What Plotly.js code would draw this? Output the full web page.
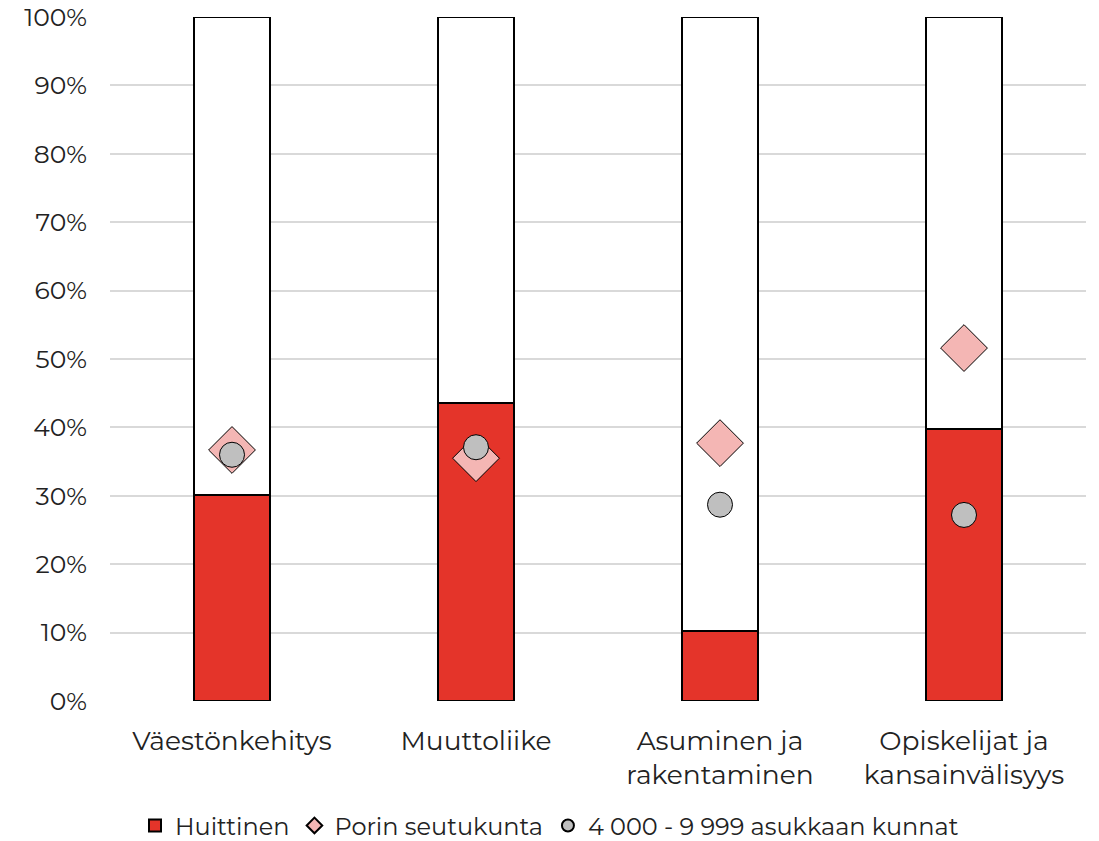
<!DOCTYPE html>
<html><head><meta charset="utf-8">
<script src="https://cdn.plot.ly/plotly-3.0.1.min.js"></script>
<style>body{margin:0;background:#fff}#c{width:1099px;height:841px}</style>
</head><body><div id="c"></div>
<script>
const categories = ["Väestönkehitys", "Muuttoliike", "Asuminen ja<br>rakentaminen", "Opiskelijat ja<br>kansainvälisyys"];
const huittinen = [30.1, 43.6, 10.3, 39.7];
const porinSeutukunta = [36.7, 35.5, 37.7, 51.6];
const kunnat = [36.0, 37.1, 28.7, 27.2];
const remainder = huittinen.map(v => 100 - v);
const yTicks = [0,10,20,30,40,50,60,70,80,90,100];
const yTickText = yTicks.map(v => v + "%");

const font = "Montserrat, 'Noto Sans', 'Open Sans', sans-serif";
const traces = [
  {type:"bar", x:categories, y:huittinen, name:"Huittinen",
   marker:{color:"#E4342A", line:{color:"#000", width:2}}},
  {type:"bar", x:categories, y:remainder, name:"rest", showlegend:false, hoverinfo:"skip",
   marker:{color:"#FFFFFF", line:{color:"#000", width:2}}},
  {type:"scatter", mode:"markers", x:categories, y:porinSeutukunta, name:"Porin seutukunta",
   marker:{symbol:"diamond", size:36, color:"#F4B6B4", line:{color:"#000", width:1}}},
  {type:"scatter", mode:"markers", x:categories, y:kunnat, name:"4 000 - 9 999 asukkaan kunnat",
   marker:{symbol:"circle", size:25, color:"#BFBFBF", line:{color:"#000", width:1}}}
];
const layout = {
  width:1099, height:841, barmode:"stack", bargap:0.685,
  margin:{l:110, r:13, t:17, b:140},
  paper_bgcolor:"#fff", plot_bgcolor:"#fff",
  font:{family:font, size:25, color:"#222"},
  showlegend:true,
  legend:{orientation:"h", x:0.5, xref:"container", xanchor:"center", y:0.018, yref:"container", yanchor:"middle",
          font:{family:font, size:24, color:"#222"}, itemsizing:"constant", traceorder:"normal", itemwidth:30},
  xaxis:{showgrid:false, zeroline:false, showline:false, ticks:"", ticklabelstandoff:21,
         tickfont:{family:font, size:26.5, color:"#222"}},
  yaxis:{range:[0,100], tickvals:yTicks, ticktext:yTickText, showgrid:true, gridcolor:"#D9D9D9", gridwidth:2,
         zeroline:false, showline:false, ticks:"", ticklabelstandoff:22,
         tickfont:{family:font, size:25, color:"#222"}}
};
Plotly.newPlot("c", traces, layout, {displayModeBar:false, staticPlot:true});
</script></body></html>
